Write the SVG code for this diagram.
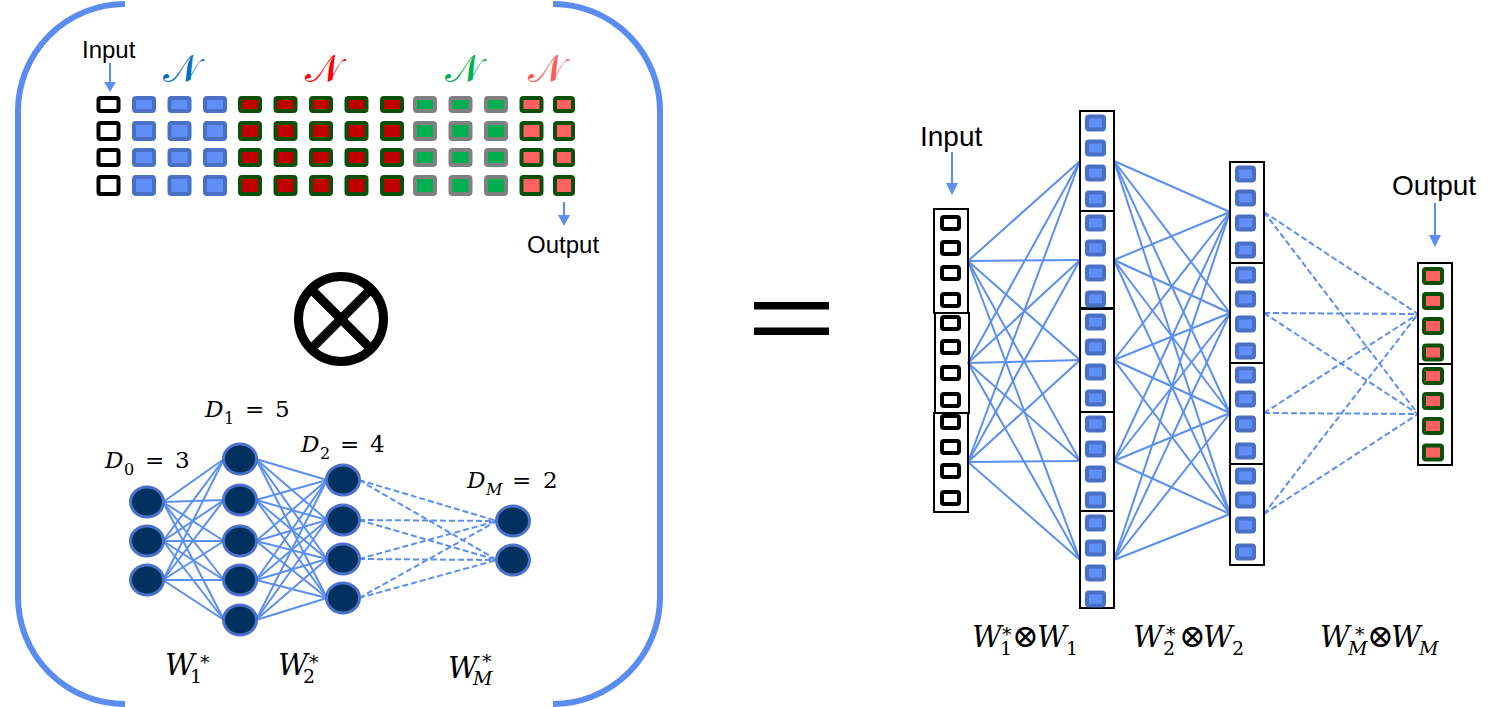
<svg xmlns="http://www.w3.org/2000/svg" width="1504" height="707" viewBox="0 0 1504 707">
<defs>
<style>
.bracket{fill:none;stroke:#5b8cf0;stroke-width:6}
.ln{stroke:#5b8ff0;stroke-width:2;fill:none}
.dl{stroke:#5b8ff0;stroke-width:2;fill:none;stroke-dasharray:6 3}
.ci{fill:#fff;stroke:#000;stroke-width:4}
.cb{fill:#5f8ef7;stroke:#4a70c6;stroke-width:4}
.cr{fill:#c00000;stroke:#0a500a;stroke-width:4}
.cg{fill:#00b050;stroke:#808080;stroke-width:4}
.cs{fill:#ff6161;stroke:#0a500a;stroke-width:4}
.blk{fill:none;stroke:#000;stroke-width:2}
.nd{fill:#03315f;stroke:#4a72c8;stroke-width:3}
.lbl{font-family:"Liberation Sans",Arial,sans-serif;fill:#000}
.m{font-family:"DejaVu Serif","Liberation Serif",serif;fill:#000}
.it{font-style:italic}
.arr{fill:#5b8ff0}
.sn{font-family:"DejaVu Sans","Noto Sans",sans-serif;font-size:38px;text-anchor:middle}
</style>
</defs>
<rect width="1504" height="707" fill="#fff"/>

<g id="brackets">
<path class="bracket" d="M125,4 A107,107 0 0 0 18,111 L18,597 A107,107 0 0 0 125,704"/>
<path class="bracket" d="M553,4 A107,107 0 0 1 660,111 L660,597 A107,107 0 0 1 553,704"/>
</g>

<g id="grid">
<g id="grid-input">
<rect class="ci" x="98.5" y="98" width="20" height="13" rx="2"/>
<rect class="ci" x="98.5" y="123" width="20" height="16" rx="2"/>
<rect class="ci" x="98.5" y="150" width="20" height="15" rx="2"/>
<rect class="ci" x="98.5" y="177" width="20" height="17" rx="2"/>
</g>
<g id="grid-blue">
<rect class="cb" x="134" y="98" width="20" height="13" rx="2"/><rect class="cb" x="169.5" y="98" width="20" height="13" rx="2"/><rect class="cb" x="205" y="98" width="20" height="13" rx="2"/>
<rect class="cb" x="134" y="123" width="20" height="16" rx="2"/><rect class="cb" x="169.5" y="123" width="20" height="16" rx="2"/><rect class="cb" x="205" y="123" width="20" height="16" rx="2"/>
<rect class="cb" x="134" y="150" width="20" height="15" rx="2"/><rect class="cb" x="169.5" y="150" width="20" height="15" rx="2"/><rect class="cb" x="205" y="150" width="20" height="15" rx="2"/>
<rect class="cb" x="134" y="177" width="20" height="17" rx="2"/><rect class="cb" x="169.5" y="177" width="20" height="17" rx="2"/><rect class="cb" x="205" y="177" width="20" height="17" rx="2"/>
</g>
<g id="grid-red">
<rect class="cr" x="240" y="98" width="20" height="13" rx="2"/><rect class="cr" x="275.5" y="98" width="20" height="13" rx="2"/><rect class="cr" x="311" y="98" width="20" height="13" rx="2"/><rect class="cr" x="346.5" y="98" width="20" height="13" rx="2"/><rect class="cr" x="382" y="98" width="20" height="13" rx="2"/>
<rect class="cr" x="240" y="123" width="20" height="16" rx="2"/><rect class="cr" x="275.5" y="123" width="20" height="16" rx="2"/><rect class="cr" x="311" y="123" width="20" height="16" rx="2"/><rect class="cr" x="346.5" y="123" width="20" height="16" rx="2"/><rect class="cr" x="382" y="123" width="20" height="16" rx="2"/>
<rect class="cr" x="240" y="150" width="20" height="15" rx="2"/><rect class="cr" x="275.5" y="150" width="20" height="15" rx="2"/><rect class="cr" x="311" y="150" width="20" height="15" rx="2"/><rect class="cr" x="346.5" y="150" width="20" height="15" rx="2"/><rect class="cr" x="382" y="150" width="20" height="15" rx="2"/>
<rect class="cr" x="240" y="177" width="20" height="17" rx="2"/><rect class="cr" x="275.5" y="177" width="20" height="17" rx="2"/><rect class="cr" x="311" y="177" width="20" height="17" rx="2"/><rect class="cr" x="346.5" y="177" width="20" height="17" rx="2"/><rect class="cr" x="382" y="177" width="20" height="17" rx="2"/>
</g>
<g id="grid-green">
<rect class="cg" x="415" y="98" width="20" height="13" rx="2"/><rect class="cg" x="450.5" y="98" width="20" height="13" rx="2"/><rect class="cg" x="486" y="98" width="20" height="13" rx="2"/>
<rect class="cg" x="415" y="123" width="20" height="16" rx="2"/><rect class="cg" x="450.5" y="123" width="20" height="16" rx="2"/><rect class="cg" x="486" y="123" width="20" height="16" rx="2"/>
<rect class="cg" x="415" y="150" width="20" height="15" rx="2"/><rect class="cg" x="450.5" y="150" width="20" height="15" rx="2"/><rect class="cg" x="486" y="150" width="20" height="15" rx="2"/>
<rect class="cg" x="415" y="177" width="20" height="17" rx="2"/><rect class="cg" x="450.5" y="177" width="20" height="17" rx="2"/><rect class="cg" x="486" y="177" width="20" height="17" rx="2"/>
</g>
<g id="grid-salmon">
<rect class="cs" x="521.5" y="98" width="20" height="13" rx="2"/><rect class="cs" x="555" y="98" width="18" height="13" rx="2"/>
<rect class="cs" x="521.5" y="123" width="20" height="16" rx="2"/><rect class="cs" x="555" y="123" width="18" height="16" rx="2"/>
<rect class="cs" x="521.5" y="150" width="20" height="15" rx="2"/><rect class="cs" x="555" y="150" width="18" height="15" rx="2"/>
<rect class="cs" x="521.5" y="177" width="20" height="17" rx="2"/><rect class="cs" x="555" y="177" width="18" height="17" rx="2"/>
</g>
<text class="sn" x="181" y="82" fill="#0070c0">𝒩</text>
<text class="sn" x="323" y="82" fill="#ff0000">𝒩</text>
<text class="sn" x="463" y="82" fill="#00b050">𝒩</text>
<text class="sn" x="546" y="82" fill="#ff5a5a">𝒩</text>
<text class="lbl" x="82" y="58" font-size="24">Input</text>
<line class="ln" x1="110" y1="63" x2="110" y2="83"/>
<polygon class="arr" points="104,82 116,82 110,92"/>
<line class="ln" x1="564" y1="202" x2="564" y2="216"/>
<polygon class="arr" points="558,215 570,215 564,226"/>
<text class="lbl" x="527" y="253" font-size="24">Output</text>
</g>

<g id="otimes" fill="none" stroke="#000" stroke-width="9">
<circle cx="341" cy="319" r="42.5"/>
<line x1="311" y1="289" x2="371" y2="349"/>
<line x1="371" y1="289" x2="311" y2="349"/>
</g>

<g id="equals" fill="#000">
<rect x="754" y="302" width="75" height="7.5"/>
<rect x="754" y="327.5" width="75" height="7.5"/>
</g>

<g id="connectors">
<g id="left-w1">
<line class="ln" x1="163" y1="502" x2="224" y2="459"/><line class="ln" x1="163" y1="502" x2="224" y2="500"/><line class="ln" x1="163" y1="502" x2="224" y2="541"/><line class="ln" x1="163" y1="502" x2="224" y2="580"/><line class="ln" x1="163" y1="502" x2="224" y2="620"/>
<line class="ln" x1="163" y1="541" x2="224" y2="459"/><line class="ln" x1="163" y1="541" x2="224" y2="500"/><line class="ln" x1="163" y1="541" x2="224" y2="541"/><line class="ln" x1="163" y1="541" x2="224" y2="580"/><line class="ln" x1="163" y1="541" x2="224" y2="620"/>
<line class="ln" x1="163" y1="580" x2="224" y2="459"/><line class="ln" x1="163" y1="580" x2="224" y2="500"/><line class="ln" x1="163" y1="580" x2="224" y2="541"/><line class="ln" x1="163" y1="580" x2="224" y2="580"/><line class="ln" x1="163" y1="580" x2="224" y2="620"/>
</g>
<g id="left-w2">
<line class="ln" x1="256" y1="459" x2="327" y2="480"/><line class="ln" x1="256" y1="459" x2="327" y2="520"/><line class="ln" x1="256" y1="459" x2="327" y2="559"/><line class="ln" x1="256" y1="459" x2="327" y2="598"/>
<line class="ln" x1="256" y1="500" x2="327" y2="480"/><line class="ln" x1="256" y1="500" x2="327" y2="520"/><line class="ln" x1="256" y1="500" x2="327" y2="559"/><line class="ln" x1="256" y1="500" x2="327" y2="598"/>
<line class="ln" x1="256" y1="541" x2="327" y2="480"/><line class="ln" x1="256" y1="541" x2="327" y2="520"/><line class="ln" x1="256" y1="541" x2="327" y2="559"/><line class="ln" x1="256" y1="541" x2="327" y2="598"/>
<line class="ln" x1="256" y1="580" x2="327" y2="480"/><line class="ln" x1="256" y1="580" x2="327" y2="520"/><line class="ln" x1="256" y1="580" x2="327" y2="559"/><line class="ln" x1="256" y1="580" x2="327" y2="598"/>
<line class="ln" x1="256" y1="620" x2="327" y2="480"/><line class="ln" x1="256" y1="620" x2="327" y2="520"/><line class="ln" x1="256" y1="620" x2="327" y2="559"/><line class="ln" x1="256" y1="620" x2="327" y2="598"/>
</g>
<g id="left-wm">
<line class="dl" x1="359" y1="480" x2="497" y2="521"/><line class="dl" x1="359" y1="480" x2="497" y2="560"/>
<line class="dl" x1="359" y1="520" x2="497" y2="521"/><line class="dl" x1="359" y1="520" x2="497" y2="560"/>
<line class="dl" x1="359" y1="559" x2="497" y2="521"/><line class="dl" x1="359" y1="559" x2="497" y2="560"/>
<line class="dl" x1="359" y1="598" x2="497" y2="521"/><line class="dl" x1="359" y1="598" x2="497" y2="560"/>
</g>
<g id="right-w1">
<line class="ln" x1="968" y1="261" x2="1080" y2="161"/><line class="ln" x1="968" y1="261" x2="1080" y2="260"/><line class="ln" x1="968" y1="261" x2="1080" y2="360"/><line class="ln" x1="968" y1="261" x2="1080" y2="461"/><line class="ln" x1="968" y1="261" x2="1080" y2="560"/>
<line class="ln" x1="968" y1="363" x2="1080" y2="161"/><line class="ln" x1="968" y1="363" x2="1080" y2="260"/><line class="ln" x1="968" y1="363" x2="1080" y2="360"/><line class="ln" x1="968" y1="363" x2="1080" y2="461"/><line class="ln" x1="968" y1="363" x2="1080" y2="560"/>
<line class="ln" x1="968" y1="462" x2="1080" y2="161"/><line class="ln" x1="968" y1="462" x2="1080" y2="260"/><line class="ln" x1="968" y1="462" x2="1080" y2="360"/><line class="ln" x1="968" y1="462" x2="1080" y2="461"/><line class="ln" x1="968" y1="462" x2="1080" y2="560"/>
</g>
<g id="right-w2">
<line class="ln" x1="1114" y1="161" x2="1230" y2="212"/><line class="ln" x1="1114" y1="161" x2="1230" y2="313"/><line class="ln" x1="1114" y1="161" x2="1230" y2="413"/><line class="ln" x1="1114" y1="161" x2="1230" y2="514"/>
<line class="ln" x1="1114" y1="260" x2="1230" y2="212"/><line class="ln" x1="1114" y1="260" x2="1230" y2="313"/><line class="ln" x1="1114" y1="260" x2="1230" y2="413"/><line class="ln" x1="1114" y1="260" x2="1230" y2="514"/>
<line class="ln" x1="1114" y1="360" x2="1230" y2="212"/><line class="ln" x1="1114" y1="360" x2="1230" y2="313"/><line class="ln" x1="1114" y1="360" x2="1230" y2="413"/><line class="ln" x1="1114" y1="360" x2="1230" y2="514"/>
<line class="ln" x1="1114" y1="461" x2="1230" y2="212"/><line class="ln" x1="1114" y1="461" x2="1230" y2="313"/><line class="ln" x1="1114" y1="461" x2="1230" y2="413"/><line class="ln" x1="1114" y1="461" x2="1230" y2="514"/>
<line class="ln" x1="1114" y1="560" x2="1230" y2="212"/><line class="ln" x1="1114" y1="560" x2="1230" y2="313"/><line class="ln" x1="1114" y1="560" x2="1230" y2="413"/><line class="ln" x1="1114" y1="560" x2="1230" y2="514"/>
</g>
<g id="right-wm">
<line class="dl" x1="1264" y1="212" x2="1418" y2="314"/><line class="dl" x1="1264" y1="212" x2="1418" y2="414"/>
<line class="dl" x1="1264" y1="313" x2="1418" y2="314"/><line class="dl" x1="1264" y1="313" x2="1418" y2="414"/>
<line class="dl" x1="1264" y1="413" x2="1418" y2="314"/><line class="dl" x1="1264" y1="413" x2="1418" y2="414"/>
<line class="dl" x1="1264" y1="514" x2="1418" y2="314"/><line class="dl" x1="1264" y1="514" x2="1418" y2="414"/>
</g>
<line class="ln" x1="952" y1="152" x2="952" y2="184"/>
<polygon class="arr" points="946,183 958,183 952,195"/>
<line class="ln" x1="1435" y1="203" x2="1435" y2="236"/>
<polygon class="arr" points="1429,235 1441,235 1435,247"/>
</g>

<g id="left-layer0">
<ellipse class="nd" cx="147" cy="502" rx="16.5" ry="15"/>
<ellipse class="nd" cx="147" cy="541" rx="16.5" ry="15"/>
<ellipse class="nd" cx="147" cy="580" rx="16.5" ry="15"/>
</g>
<g id="left-layer1">
<ellipse class="nd" cx="240" cy="459" rx="16.5" ry="15"/>
<ellipse class="nd" cx="240" cy="500" rx="16.5" ry="15"/>
<ellipse class="nd" cx="240" cy="541" rx="16.5" ry="15"/>
<ellipse class="nd" cx="240" cy="580" rx="16.5" ry="15"/>
<ellipse class="nd" cx="240" cy="620" rx="16.5" ry="15"/>
</g>
<g id="left-layer2">
<ellipse class="nd" cx="343" cy="480" rx="16.5" ry="15"/>
<ellipse class="nd" cx="343" cy="520" rx="16.5" ry="15"/>
<ellipse class="nd" cx="343" cy="559" rx="16.5" ry="15"/>
<ellipse class="nd" cx="343" cy="598" rx="16.5" ry="15"/>
</g>
<g id="left-layerM">
<ellipse class="nd" cx="513" cy="521" rx="16.5" ry="15"/>
<ellipse class="nd" cx="513" cy="560" rx="16.5" ry="15"/>
</g>

<g id="left-labels">
<text class="m" font-size="23"><tspan class="it" x="105" y="468">D</tspan><tspan font-size="16" x="124" y="475">0</tspan><tspan x="145" y="468">=</tspan><tspan x="175" y="468">3</tspan></text>
<text class="m" font-size="23"><tspan class="it" x="205" y="417">D</tspan><tspan font-size="16" x="224" y="424">1</tspan><tspan x="245" y="417">=</tspan><tspan x="275" y="417">5</tspan></text>
<text class="m" font-size="23"><tspan class="it" x="301" y="452">D</tspan><tspan font-size="16" x="320" y="459">2</tspan><tspan x="340" y="452">=</tspan><tspan x="370" y="452">4</tspan></text>
<text class="m" font-size="23"><tspan class="it" x="467" y="488">D</tspan><tspan class="it" font-size="16" x="486" y="495">M</tspan><tspan x="512" y="488">=</tspan><tspan x="543" y="488">2</tspan></text>
<text class="m" font-size="29"><tspan class="it" x="165" y="675">W</tspan><tspan font-size="19" x="190" y="683">1</tspan><tspan font-size="19" x="200" y="669">*</tspan></text>
<text class="m" font-size="29"><tspan class="it" x="278" y="675">W</tspan><tspan font-size="19" x="303" y="683">2</tspan><tspan font-size="19" x="309" y="669">*</tspan></text>
<text class="m" font-size="29"><tspan class="it" x="448" y="678">W</tspan><tspan class="it" font-size="19" x="473" y="685">M</tspan><tspan font-size="19" x="482" y="668">*</tspan></text>
</g>

<g id="right-input">
<rect class="blk" x="934" y="209" width="34" height="104"/>
<rect class="blk" x="935" y="313" width="34" height="100"/>
<rect class="blk" x="934" y="413" width="34" height="99"/>
<rect class="ci" x="942" y="217" width="17" height="12" rx="2"/>
<rect class="ci" x="942" y="242" width="17" height="12" rx="2"/>
<rect class="ci" x="942" y="267" width="17" height="12" rx="2"/>
<rect class="ci" x="942" y="294" width="17" height="12" rx="2"/>
<rect class="ci" x="942" y="317" width="17" height="12" rx="2"/>
<rect class="ci" x="942" y="341" width="17" height="12" rx="2"/>
<rect class="ci" x="942" y="367" width="17" height="12" rx="2"/>
<rect class="ci" x="942" y="394" width="17" height="12" rx="2"/>
<rect class="ci" x="942" y="416" width="17" height="12" rx="2"/>
<rect class="ci" x="942" y="441" width="17" height="12" rx="2"/>
<rect class="ci" x="942" y="465" width="17" height="12" rx="2"/>
<rect class="ci" x="942" y="492" width="17" height="12" rx="2"/>
<text class="lbl" x="920" y="146" font-size="28">Input</text>
</g>

<g id="right-layer1">
<rect class="blk" x="1080" y="111" width="34" height="100"/>
<rect class="blk" x="1080" y="211" width="34" height="97"/>
<rect class="blk" x="1080" y="309" width="34" height="103"/>
<rect class="blk" x="1080" y="412" width="34" height="99"/>
<rect class="blk" x="1080" y="511" width="34" height="97"/>
<rect class="cb" x="1087" y="116.5" width="17" height="13" rx="2"/><rect class="cb" x="1087" y="141.5" width="17" height="13" rx="2"/><rect class="cb" x="1087" y="166.5" width="17" height="13" rx="2"/><rect class="cb" x="1087" y="192.5" width="17" height="13" rx="2"/>
<rect class="cb" x="1087" y="216.5" width="17" height="13" rx="2"/><rect class="cb" x="1087" y="241.5" width="17" height="13" rx="2"/><rect class="cb" x="1087" y="266.5" width="17" height="13" rx="2"/><rect class="cb" x="1087" y="292.5" width="17" height="13" rx="2"/>
<rect class="cb" x="1087" y="315.5" width="17" height="13" rx="2"/><rect class="cb" x="1087" y="340.5" width="17" height="13" rx="2"/><rect class="cb" x="1087" y="365.5" width="17" height="13" rx="2"/><rect class="cb" x="1087" y="391.5" width="17" height="13" rx="2"/>
<rect class="cb" x="1087" y="417.5" width="17" height="13" rx="2"/><rect class="cb" x="1087" y="442.5" width="17" height="13" rx="2"/><rect class="cb" x="1087" y="467.5" width="17" height="13" rx="2"/><rect class="cb" x="1087" y="493.5" width="17" height="13" rx="2"/>
<rect class="cb" x="1087" y="516.5" width="17" height="13" rx="2"/><rect class="cb" x="1087" y="541.5" width="17" height="13" rx="2"/><rect class="cb" x="1087" y="566.5" width="17" height="13" rx="2"/><rect class="cb" x="1087" y="592.5" width="17" height="13" rx="2"/>
</g>

<g id="right-layer2">
<rect class="blk" x="1230" y="162" width="34" height="101"/>
<rect class="blk" x="1230" y="263" width="34" height="100"/>
<rect class="blk" x="1230" y="363" width="34" height="101"/>
<rect class="blk" x="1230" y="464" width="34" height="101"/>
<rect class="cb" x="1237" y="167.5" width="17" height="13" rx="2"/><rect class="cb" x="1237" y="191.5" width="17" height="13" rx="2"/><rect class="cb" x="1237" y="216.5" width="17" height="13" rx="2"/><rect class="cb" x="1237" y="243.5" width="17" height="13" rx="2"/>
<rect class="cb" x="1237" y="268.5" width="17" height="13" rx="2"/><rect class="cb" x="1237" y="292.5" width="17" height="13" rx="2"/><rect class="cb" x="1237" y="317.5" width="17" height="13" rx="2"/><rect class="cb" x="1237" y="344.5" width="17" height="13" rx="2"/>
<rect class="cb" x="1237" y="368.5" width="17" height="13" rx="2"/><rect class="cb" x="1237" y="392.5" width="17" height="13" rx="2"/><rect class="cb" x="1237" y="417.5" width="17" height="13" rx="2"/><rect class="cb" x="1237" y="444.5" width="17" height="13" rx="2"/>
<rect class="cb" x="1237" y="469.5" width="17" height="13" rx="2"/><rect class="cb" x="1237" y="493.5" width="17" height="13" rx="2"/><rect class="cb" x="1237" y="518.5" width="17" height="13" rx="2"/><rect class="cb" x="1237" y="545.5" width="17" height="13" rx="2"/>
</g>

<g id="right-output">
<rect class="blk" x="1418" y="263" width="34" height="101"/>
<rect class="blk" x="1418" y="364" width="34" height="101"/>
<rect class="cs" x="1424" y="269" width="18" height="14" rx="2"/><rect class="cs" x="1424" y="294" width="18" height="14" rx="2"/><rect class="cs" x="1424" y="319" width="18" height="14" rx="2"/><rect class="cs" x="1424" y="345.5" width="18" height="14" rx="2"/>
<rect class="cs" x="1424" y="369" width="18" height="14" rx="2"/><rect class="cs" x="1424" y="394" width="18" height="14" rx="2"/><rect class="cs" x="1424" y="419" width="18" height="14" rx="2"/><rect class="cs" x="1424" y="445.5" width="18" height="14" rx="2"/>
<text class="lbl" x="1392" y="195" font-size="28">Output</text>
</g>

<g id="right-labels">
<text class="m" font-size="29"><tspan class="it" x="972" y="647">W</tspan><tspan font-size="19" x="1000" y="655">1</tspan><tspan font-size="19" x="1002" y="641">*</tspan><tspan font-size="32" x="1012" y="647">⊗</tspan><tspan class="it" x="1037" y="647">W</tspan><tspan font-size="19" x="1066" y="655">1</tspan></text>
<text class="m" font-size="29"><tspan class="it" x="1133" y="647">W</tspan><tspan font-size="19" x="1163" y="655">2</tspan><tspan font-size="19" x="1166" y="641">*</tspan><tspan font-size="32" x="1179" y="647">⊗</tspan><tspan class="it" x="1203" y="647">W</tspan><tspan font-size="19" x="1232" y="655">2</tspan></text>
<text class="m" font-size="29"><tspan class="it" x="1320" y="647">W</tspan><tspan class="it" font-size="19" x="1348" y="655">M</tspan><tspan font-size="19" x="1355" y="641">*</tspan><tspan font-size="32" x="1367" y="647">⊗</tspan><tspan class="it" x="1391" y="647">W</tspan><tspan class="it" font-size="19" x="1419" y="655">M</tspan></text>
</g>
</svg>
